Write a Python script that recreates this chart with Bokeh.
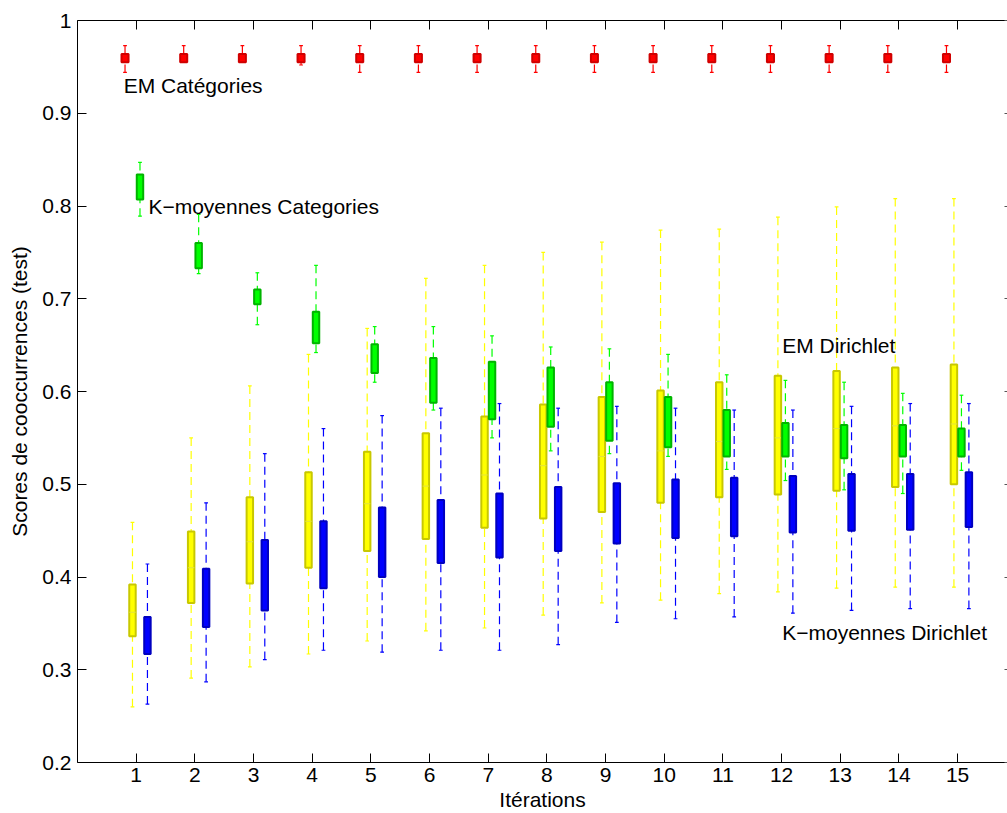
import numpy as np
from bokeh.plotting import figure
from bokeh.models import Range1d, FixedTicker, LinearAxis, Label, CustomJSTickFormatter
from bokeh.embed import file_html
from bokeh.resources import INLINE

# ---------------- data ----------------
iterations = [1, 2, 3, 4, 5, 6, 7, 8, 9, 10, 11, 12, 13, 14, 15]
y_ticks = [0.2, 0.3, 0.4, 0.5, 0.6, 0.7, 0.8, 0.9, 1.0]

# EM Catégories (red)
emcat_hi  = [0.973, 0.973, 0.973, 0.973, 0.973, 0.973, 0.973, 0.973, 0.973, 0.973, 0.973, 0.973, 0.973, 0.973, 0.973]
emcat_q3  = [0.964, 0.964, 0.964, 0.964, 0.964, 0.964, 0.964, 0.964, 0.964, 0.964, 0.964, 0.964, 0.964, 0.964, 0.964]
emcat_q1  = [0.955, 0.955, 0.955, 0.955, 0.955, 0.955, 0.955, 0.955, 0.955, 0.955, 0.955, 0.955, 0.955, 0.955, 0.955]
emcat_lo  = [0.944, 0.955, 0.955, 0.952, 0.944, 0.944, 0.944, 0.944, 0.944, 0.944, 0.944, 0.944, 0.944, 0.944, 0.944]

# K-moyennes Categories (green)
kmcat_hi = [0.847, 0.791, 0.728, 0.736, 0.670, 0.670, 0.660, 0.648, 0.646, 0.640, 0.618, 0.612, 0.610, 0.598, 0.596]
kmcat_q3 = [0.834, 0.760, 0.710, 0.686, 0.651, 0.636, 0.632, 0.626, 0.610, 0.594, 0.580, 0.566, 0.564, 0.564, 0.560]
kmcat_q1 = [0.807, 0.733, 0.694, 0.652, 0.620, 0.588, 0.570, 0.562, 0.547, 0.540, 0.530, 0.530, 0.528, 0.530, 0.530]
kmcat_lo = [0.789, 0.727, 0.672, 0.642, 0.610, 0.580, 0.550, 0.536, 0.533, 0.530, 0.516, 0.504, 0.494, 0.490, 0.515]

# EM Dirichlet (yellow)
emdir_hi  = [0.459, 0.550, 0.606, 0.640, 0.668, 0.722, 0.736, 0.750, 0.761, 0.774, 0.775, 0.788, 0.799, 0.808, 0.808]
emdir_q3  = [0.392, 0.449, 0.486, 0.513, 0.535, 0.555, 0.573, 0.586, 0.594, 0.601, 0.610, 0.617, 0.622, 0.626, 0.629]
emdir_med = [0.362, 0.410, 0.438, 0.460, 0.479, 0.498, 0.510, 0.520, 0.530, 0.536, 0.546, 0.550, 0.560, 0.563, 0.565]
emdir_q1  = [0.336, 0.372, 0.393, 0.410, 0.428, 0.441, 0.453, 0.463, 0.470, 0.480, 0.486, 0.489, 0.493, 0.497, 0.500]
emdir_lo  = [0.260, 0.291, 0.303, 0.317, 0.331, 0.342, 0.345, 0.359, 0.372, 0.375, 0.382, 0.384, 0.388, 0.389, 0.389]

# K-moyennes Dirichlet (blue)
kmdir_hi = [0.414, 0.480, 0.533, 0.560, 0.574, 0.582, 0.587, 0.582, 0.584, 0.582, 0.580, 0.580, 0.584, 0.587, 0.587]
kmdir_q3 = [0.357, 0.409, 0.440, 0.460, 0.475, 0.483, 0.490, 0.497, 0.501, 0.505, 0.507, 0.509, 0.511, 0.511, 0.513]
kmdir_q1 = [0.317, 0.346, 0.364, 0.388, 0.400, 0.415, 0.421, 0.428, 0.436, 0.442, 0.444, 0.448, 0.450, 0.451, 0.454]
kmdir_lo = [0.263, 0.287, 0.311, 0.321, 0.319, 0.321, 0.321, 0.327, 0.351, 0.355, 0.357, 0.361, 0.364, 0.366, 0.366]

label_texts = ["EM Catégories", "K\u2212moyennes Categories", "EM Dirichlet", "K\u2212moyennes Dirichlet"]

# ---------------- figure ----------------
FONT = "Liberation Sans"
p = figure(width=1007, height=813, output_backend="svg", toolbar_location=None,
           x_range=Range1d(0, 15.85), y_range=Range1d(0.2, 1.0),
           min_border_left=77, min_border_right=0, min_border_top=20, min_border_bottom=50,
           background_fill_color="white", border_fill_color="white")
p.outline_line_color = None
p.grid.visible = False

xt = FixedTicker(ticks=iterations)
yt = FixedTicker(ticks=y_ticks)

p.xaxis.ticker = xt
p.yaxis.ticker = yt
p.yaxis.formatter = CustomJSTickFormatter(code="return tick.toFixed(1).replace(/\\.0$/, '');")
for ax in (p.xaxis[0], p.yaxis[0]):
    ax.major_tick_in = 9
    ax.major_tick_out = 0
    ax.minor_tick_line_color = None
    ax.axis_line_color = "black"
    ax.major_tick_line_color = "black"
    ax.major_label_text_font = FONT
    ax.major_label_text_font_size = "21px"
    ax.major_label_text_color = "black"
    ax.axis_label_text_font = FONT
    ax.axis_label_text_font_size = "21px"
    ax.axis_label_text_font_style = "normal"
    ax.axis_label_text_color = "black"
p.xaxis.axis_label = "Itérations"
p.xaxis.major_label_standoff = 5
p.xaxis.axis_label_standoff = 3
p.yaxis.axis_label = "Scores de cooccurrences (test)"
p.yaxis.major_label_standoff = 6
p.yaxis.axis_label_standoff = 8

top = LinearAxis(ticker=xt, formatter=CustomJSTickFormatter(code="return '';"),
                 major_tick_in=9, major_tick_out=0,
                 minor_tick_line_color=None, major_label_standoff=0,
                 axis_line_color="black", major_tick_line_color="black")
p.add_layout(top, "above")
right = LinearAxis(ticker=yt, formatter=CustomJSTickFormatter(code="return '';"),
                   major_tick_in=3, major_tick_out=0, minor_tick_line_color=None,
                   major_label_standoff=0,
                   axis_line_color=None, major_tick_line_color="#555555")
p.add_layout(right, "right")

it = np.array(iterations, dtype=float)


def draw_box(offset, lo, q1, q3, hi, fill, edge, wcol, med=None, med_col=None, bw=0.11):
    xs = it + offset
    cw = 0.032
    p.segment(xs, hi, xs, q3, line_color=wcol, line_width=1.2, line_dash="8 5")
    p.segment(xs, lo, xs, q1, line_color=wcol, line_width=1.2, line_dash="8 5")
    p.segment(xs - cw, hi, xs + cw, hi, line_color=wcol, line_width=1.2)
    p.segment(xs - cw, lo, xs + cw, lo, line_color=wcol, line_width=1.2)
    p.vbar(x=xs, width=bw, bottom=q1, top=q3, fill_color=fill, line_color=edge, line_width=2)
    if med is not None:
        p.segment(xs - 0.055, med, xs + 0.055, med, line_color=med_col, line_width=1)


draw_box(-0.19, emcat_lo, emcat_q1, emcat_q3, emcat_hi, "#ff0000", "#d00000", "#ff0000", bw=0.12)
draw_box(-0.063, emdir_lo, emdir_q1, emdir_q3, emdir_hi, "#ffff00", "#c8c800", "#ffff00",
         med=emdir_med, med_col="#e2e240")
draw_box(0.065, kmcat_lo, kmcat_q1, kmcat_q3, kmcat_hi, "#00ff00", "#00b400", "#00ff00")
draw_box(0.192, kmdir_lo, kmdir_q1, kmdir_q3, kmdir_hi, "#0000ff", "#0000c0", "#0000ff")

label_pos = [(0.787, 0.9295), (1.208, 0.800), (12.01, 0.6497), (12.01, 0.3407)]
for txt, (lx, ly) in zip(label_texts, label_pos):
    p.add_layout(Label(x=lx, y=ly, text=txt, text_font=FONT, text_font_size="21px",
                       text_color="black", text_align="left", text_baseline="alphabetic"))

open("out.html", "w").write(file_html(p, INLINE))
